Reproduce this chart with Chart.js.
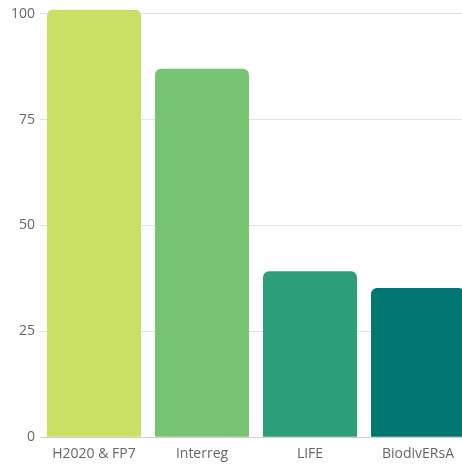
<!DOCTYPE html>
<html>
<head>
<meta charset="utf-8">
<script src="https://cdn.jsdelivr.net/npm/chart.js@4/dist/chart.umd.min.js"></script>
<style>
  html, body { margin: 0; padding: 0; background: #fff; overflow: hidden; }
  #wrap { position: absolute; left: 0; top: -4px; width: 472px; height: 474px; }
</style>
</head>
<body>
<div id="wrap"><canvas id="myChart"></canvas></div>
<script>
let categories = ['H2020 & FP7', 'Interreg', 'LIFE', 'BiodivERsA'];
let values = [101, 87, 39.2, 35.2];
let barColors = ['#c8e066', '#76c472', '#2c9e7b', '#017570'];
let yTicks = [0, 25, 50, 75, 100];

let ctx = document.getElementById('myChart').getContext('2d');

var data =
{
    labels: categories,
    datasets:
    [{
        data: values,
        backgroundColor: barColors,
        borderRadius: 6,
        borderSkipped: 'bottom',
        barPercentage: 0.87,
        categoryPercentage: 1
    }]
};

var myChart = new Chart(ctx,
{
    type: 'bar',
    data: data,
    options:
    {
        responsive: true,
        maintainAspectRatio: false,
        animation: false,
        layout: { padding: { left: 6, top: 3, right: 0, bottom: 0 } },
        plugins: { legend: { display: false }, tooltip: { enabled: false } },
        scales:
        {
            x:
            {
                grid: { display: false, drawTicks: false },
                border: { display: true, color: '#cfcfcf' },
                ticks: { color: '#666', padding: 8, font: { family: 'Open Sans', size: 14 } }
            },
            y:
            {
                min: 0,
                max: 101,
                afterBuildTicks: function(scale)
                {
                    scale.ticks = yTicks.map(function(v) { return { value: v }; });
                },
                grid: { color: '#e3e3e3', drawTicks: false },
                border: { display: false },
                ticks: { color: '#666', padding: 5, font: { family: 'Open Sans', size: 14 } }
            }
        }
    }
});
</script>
</body>
</html>
